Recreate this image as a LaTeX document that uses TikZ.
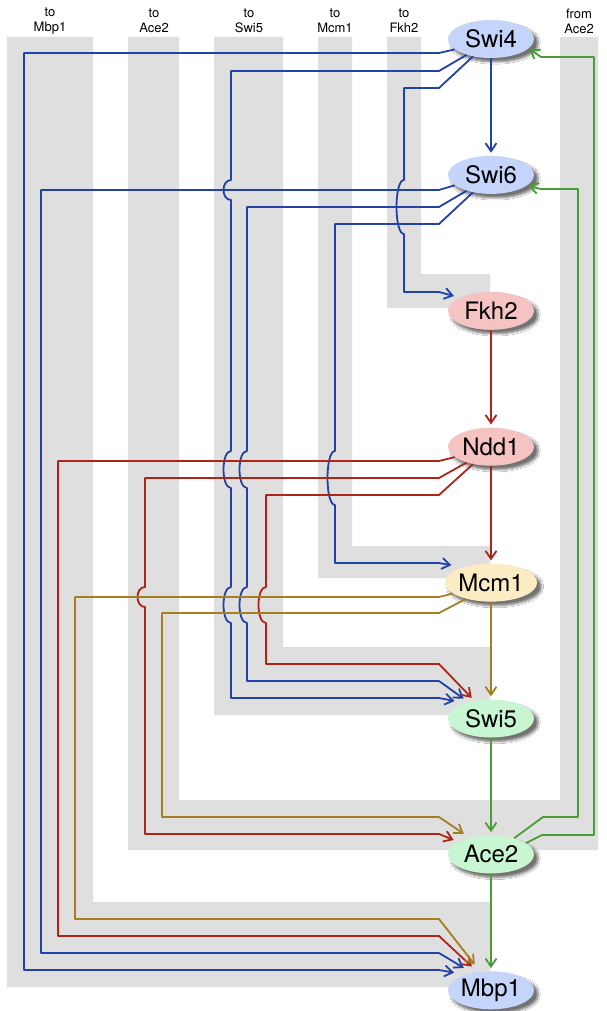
\documentclass[tikz,border=0pt]{standalone}
\usepackage{fontspec}
\setmainfont{TeX Gyre Heros}
\usepackage{tikz}
\usetikzlibrary{arrows.meta,shapes.geometric,shadows.blur}

\definecolor{wireblue}{RGB}{33,66,166}
\definecolor{wirered}{RGB}{172,38,24}
\definecolor{wireolive}{RGB}{166,126,34}
\definecolor{wiregreen}{RGB}{72,158,52}
\definecolor{bandgrey}{RGB}{223,223,223}
\definecolor{fillblue}{RGB}{196,212,250}
\definecolor{fillred}{RGB}{245,196,194}
\definecolor{fillyellow}{RGB}{252,236,196}
\definecolor{fillgreen}{RGB}{200,246,210}

\begin{document}
\begin{tikzpicture}[x=1pt,y=-1pt,>={Straight Barb[length=8pt,width=11pt]},line join=round,node distance=135.9pt,
	gene/.style={ellipse,minimum width=86pt,minimum height=38pt,inner sep=0pt,font=\fontsize{24}{26}\selectfont,
		blur shadow={shadow xshift=4pt,shadow yshift=-4pt,shadow blur steps=8,shadow blur extra rounding=2pt,shadow opacity=55}},
	bluegene/.style={gene,fill=fillblue},
	redgene/.style={gene,fill=fillred},
	yellowgene/.style={gene,fill=fillyellow},
	greengene/.style={gene,fill=fillgreen},
	chan/.style={align=center,font=\fontsize{13}{15}\selectfont},
	band/.style={fill=bandgrey},
	bluewire/.style={draw=wireblue,line width=1.8pt},
	redwire/.style={draw=wirered,line width=1.8pt},
	olivewire/.style={draw=wireolive,line width=1.8pt},
	greenwire/.style={draw=wiregreen,line width=1.8pt}]

	\fill[white] (0,0) rectangle (606,1011);
	\useasboundingbox (0,0) rectangle (606,1011);

	\fill[band] (7,37) -- (93,37) -- (93,902) -- (490,902) -- (490,987) -- (7,987) -- cycle;
	\fill[band] (128,37) -- (179,37) -- (179,800) -- (560,800) -- (560,37) -- (598,37) -- (598,850) -- (128,850) -- cycle;
	\fill[band] (214,37) -- (283,37) -- (283,647) -- (490,647) -- (490,715) -- (214,715) -- cycle;
	\fill[band] (318,37) -- (352,37) -- (352,546) -- (490,546) -- (490,578) -- (318,578) -- cycle;
	\fill[band] (387,37) -- (421,37) -- (421,274) -- (490,274) -- (490,308) -- (387,308) -- cycle;

	\node[chan] (toMbp1) at (50,21) {to\\Mbp1};
	\node[chan] (toAce2) at (154,21) {to\\Ace2};
	\node[chan] (toSwi5) at (249,21) {to\\Swi5};
	\node[chan] (toMcm1) at (335,21) {to\\Mcm1};
	\node[chan] (toFkh2) at (404,21) {to\\Fkh2};
	\node[chan] (fromAce2) at (579,21) {from\\Ace2};

	\node[bluegene]   (Swi4) at (491,39)      {Swi4};
	\node[bluegene]   (Swi6) [below of=Swi4]  {Swi6};
	\node[redgene]    (Fkh2) [below of=Swi6]  {Fkh2};
	\node[redgene]    (Ndd1) [below of=Fkh2]  {Ndd1};
	\node[yellowgene] (Mcm1) [below of=Ndd1]  {Mcm1};
	\node[greengene]  (Swi5) [below of=Mcm1]  {Swi5};
	\node[greengene]  (Ace2) [below of=Swi5]  {Ace2};
	\node[bluegene]   (Mbp1) [below of=Ace2]  {Mbp1};

	\path[bluewire,->,shorten >=3pt] (Swi4) edge (Swi6);
	\path[redwire,->,shorten >=3pt] (Fkh2) edge (Ndd1)
		(Ndd1) edge (Mcm1);
	\path[olivewire,->,shorten >=3pt] (Mcm1) edge (Swi5);
	\path[greenwire,->,shorten >=3pt] (Swi5) edge (Ace2)
		(Ace2) edge (Mbp1);

	\draw[bluewire,->,shorten >=12pt] (Swi4.196) -- (439,53) -- (24,53) -- (24,970) -- (439,970) -- (Mbp1.148);
	\draw[bluewire,->,shorten >=11pt] (Swi4.213) -- (439,71) -- (231,71) -- (231,180) .. controls (221,180) and (221,200) .. (231,200)
		-- (231,451) .. controls (221,451) and (221,488) .. (231,488)
		-- (231,587) .. controls (221,587) and (221,623) .. (231,623) -- (231,698) -- (439,698) -- (Swi5.149);
	\draw[bluewire,->,shorten >=6pt] (Swi4.224) -- (439,88) -- (404,88) -- (404,180) .. controls (394,180) and (394,234) .. (404,234)
		-- (404,292) -- (439,292) -- (Fkh2.157);

	\draw[bluewire,->,shorten >=10pt] (Swi6.196) -- (439,190) -- (41,190) -- (41,953) -- (439,953) -- (Mbp1.137);
	\draw[bluewire,->,shorten >=6pt] (Swi6.213) -- (439,207) -- (247,207) -- (247,451) .. controls (237,451) and (237,488) .. (247,488)
		-- (247,587) .. controls (237,587) and (237,623) .. (247,623) -- (247,681) -- (439,681) -- (Swi5.144);
	\draw[bluewire,->,shorten >=12pt] (Swi6.224) -- (439,224) -- (335,224) -- (335,451) .. controls (325,451) and (325,505) .. (335,505)
		-- (335,563) -- (439,563) -- (Mcm1.151);

	\draw[redwire,->,shorten >=8pt] (Ndd1.196) -- (439,461) -- (58,461) -- (58,936) -- (439,936) -- (Mbp1.126);
	\draw[redwire,->,shorten >=5pt] (Ndd1.213) -- (439,478) -- (145,478) -- (145,587) .. controls (135,587) and (135,607) .. (145,607)
		-- (145,834) -- (439,834) -- (Ace2.159);
	\draw[redwire,->,shorten >=4pt] (Ndd1.224) -- (439,495) -- (266,495) -- (266,587) .. controls (256,587) and (256,623) .. (266,623)
		-- (266,664) -- (439,664) -- (Swi5.133);

	\draw[olivewire,->,shorten >=9pt] (Mcm1.196) -- (439,597) -- (75,597) -- (75,919) -- (439,919) -- (Mbp1.120);
	\draw[olivewire,->,shorten >=7pt] (Mcm1.213) -- (439,613) -- (162,613) -- (162,817) -- (439,817) -- (Ace2.142);

	\draw[greenwire,->,shorten >=2pt] (Ace2.35) -- (543,817) -- (578,817) -- (578,189) -- (541,189) -- (Swi6.343);
	\draw[greenwire,->,shorten >=1pt] (Ace2.18) -- (542,835) -- (594,835) -- (594,57) -- (541,57) -- (Swi4.346);

\end{tikzpicture}
\end{document}
